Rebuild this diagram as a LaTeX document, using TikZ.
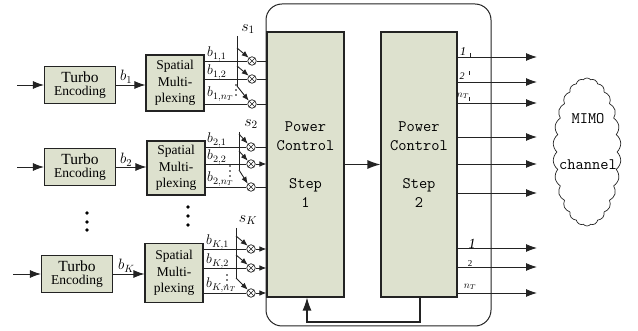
\documentclass[tikz,border=0pt]{standalone}
\usepackage{fix-cm}
\usepackage{fontspec}
\setmainfont{Liberation Serif}
\usetikzlibrary{arrows.meta,shapes.symbols}
\definecolor{boxfill}{RGB}{221,225,206}
\definecolor{ink}{RGB}{35,35,35}
\begin{document}
\begin{tikzpicture}[x=1pt,y=-1pt,
  box/.style={draw=ink, line width=1.1pt, fill=boxfill, inner sep=0pt, align=center},
  wire/.style={draw=ink, line width=0.9pt},
  arr/.style={wire, -{Latex[length=11pt,width=8pt]}},
  barr/.style={wire, line width=1.1pt, -{Latex[length=13pt,width=9pt]}},
  sarr/.style={wire, -{Latex[length=7pt,width=5.5pt]}},
  mult/.style={circle, draw=ink, line width=0.7pt, minimum size=8.5pt, inner sep=0pt, fill=white,
    path picture={\draw[ink, line width=0.6pt] (path picture bounding box.north west)--(path picture bounding box.south east)
      (path picture bounding box.north east)--(path picture bounding box.south west);}},
  blab/.style={inner sep=0pt, anchor=base west, font=\fontsize{14}{14}\selectfont},
  dot/.style={circle, fill=black, inner sep=0pt, minimum size=3.6pt},
  sdot/.style={circle, fill=black, inner sep=0pt, minimum size=1.6pt},
  pc/.style={box, font=\ttfamily\fontsize{16}{18.5}\selectfont, minimum width=77pt, minimum height=265pt},
  turbo/.style={box, minimum width=71pt, minimum height=37pt},
  spat/.style={box, minimum width=58pt, font=\fontsize{13.5}{16.5}\selectfont}
]
\useasboundingbox (0,0) rectangle (638,331);

% outer rounded frame
\node[draw=ink, line width=1pt, rounded corners=16pt, minimum width=225pt, minimum height=322pt, inner sep=0pt] (outer) at (378.5,165) {};

% Turbo boxes
\node[turbo] (t1) at (80,85)
  {{\fontsize{15.5}{15.5}\selectfont Turbo}\\[1pt]{\fontsize{13.5}{13.5}\selectfont Encoding}};
\node[turbo] (t2) at (80,167)
  {{\fontsize{15.5}{15.5}\selectfont Turbo}\\[1pt]{\fontsize{13.5}{13.5}\selectfont Encoding}};
\node[turbo] (t3) at (77,274)
  {{\fontsize{15.5}{15.5}\selectfont Turbo}\\[1pt]{\fontsize{13.5}{13.5}\selectfont Encoding}};

% Spatial boxes
\node[spat, minimum height=56pt] (s1) at (175,83) {Spatial\\Multi-\\plexing};
\node[spat, minimum height=54pt] (s2) at (176,168) {Spatial\\Multi-\\plexing};
\node[spat, minimum height=59pt] (s3) at (174,273) {Spatial\\Multi-\\plexing};

% Power control boxes
\node[pc] (p1) at (305.5,164.5) {Power\\Control\\[20pt]Step\\1};
\node[pc, minimum width=76pt] (p2) at (419,164.5) {Power\\Control\\[20pt]Step\\2};

% input arrows
\coordinate (i1) at (17,85);
\coordinate (i2) at (17,167);
\coordinate (i3) at (13,274);
\draw[arr] (i1) -- (t1.west);
\draw[arr] (i2) -- (t2.west);
\draw[arr] (i3) -- (t3.west);
\draw[arr] (t1.east) -- (t1.east -| s1.west);
\draw[arr] (t2.east) -- (t2.east -| s2.west);
\draw[arr] (t3.east) -- (t3.east -| s3.west);
\node[inner sep=0pt, anchor=base west, font=\fontsize{15}{15}\selectfont] (lb1) at (120,81) {$b_1$};
\node[inner sep=0pt, anchor=base west, font=\fontsize{15}{15}\selectfont] (lb2) at (120,164) {$b_2$};
\node[inner sep=0pt, anchor=base west, font=\fontsize{15}{15}\selectfont] (lb3) at (118,270) {$b_K$};

% multipliers
\node[mult] (m11) at (252,61) {};
\node[mult] (m12) at (252,79) {};
\node[mult] (m13) at (252,104) {};
\node[mult] (m21) at (251,147) {};
\node[mult] (m22) at (251,164) {};
\node[mult] (m23) at (251,187) {};
\node[mult] (m31) at (251,249) {};
\node[mult] (m32) at (251,268) {};
\node[mult] (m33) at (251,293) {};

% lines spatial -> multipliers
\foreach \g/\s in {1/s1,2/s2,3/s3}{
  \foreach \k in {1,2,3}{
    \draw[wire] (\s.east |- m\g\k) -- (m\g\k.west);
  }
}
% multipliers -> power control 1
\draw[wire] (m11.east) -- (m11 -| p1.west);
\draw[wire] (m12.east) -- (m12 -| p1.west);
\draw[wire] (m13.east) -- (m13 -| p1.west);
\draw[wire] (m21.east) -- (m21 -| p1.west);
\draw[sarr] (m22.east) -- (m22 -| p1.west);
\draw[wire] (m23.east) -- (m23 -| p1.west);
\draw[sarr] (m31.east) -- (m31 -| p1.west);
\draw[sarr] (m32.east) -- (m32 -| p1.west);
\draw[sarr] (m33.east) -- (m33 -| p1.west);

% switches
\coordinate (w1t) at (237,36);  \coordinate (w1a) at (237,48);  \coordinate (w1b) at (237,66);  \coordinate (w1c) at (237,86);
\coordinate (w2t) at (239,132); \coordinate (w2a) at (239,134); \coordinate (w2b) at (239,151); \coordinate (w2c) at (239,170);
\coordinate (w3t) at (236,228); \coordinate (w3a) at (236,236); \coordinate (w3b) at (236,255); \coordinate (w3c) at (236,278);
\foreach \g in {1,2,3}{
  \draw[wire] (w\g t) -- (w\g c);
  \draw[sarr] (w\g a) -- (m\g1.north west);
  \draw[sarr] (w\g b) -- (m\g2.north west);
  \draw[sarr] (w\g c) -- (m\g3.north west);
}
\node[inner sep=0pt, font=\fontsize{16}{16}\selectfont] (sl1) at (248,29) {$s_1$};
\node[inner sep=0pt, font=\fontsize{16}{16}\selectfont] (sl2) at (251,124) {$s_2$};
\node[inner sep=0pt, font=\fontsize{16}{16}\selectfont] (sl3) at (248,220) {$s_K$};

% b labels
\node[blab] at (207,57) {$b_{1,1}$};
\node[blab] at (207,75) {$b_{1,2}$};
\node[blab] at (207,97) {$b_{1,n_T}$};
\node[blab] at (207,143) {$b_{2,1}$};
\node[blab] at (207,160) {$b_{2,2}$};
\node[blab] at (207,182) {$b_{2,n_T}$};
\node[blab] at (206,245) {$b_{K,1}$};
\node[blab] at (206,264) {$b_{K,2}$};
\node[blab] at (206,288) {$b_{K,n_T}$};
\foreach \x/\y in {236/85,230/166,227/275}{
  \node[sdot] at (\x,\y) {};
  \node[sdot] at (\x,\y+5) {};
  \node[sdot] at (\x,\y+10) {};
}

% vertical dots between groups
\node[dot] at (87,213) {};
\node[dot] at (87,222) {};
\node[dot] at (87,230) {};
\node[dot] at (188,207) {};
\node[dot] at (188,216) {};
\node[dot] at (188,225) {};

% between power control boxes
\draw[barr] (p1.east) -- (p2.west);
% feedback
\coordinate (fb1) at (420,322);
\coordinate (fb2) at (307,322);
\draw[barr] (fb1 |- p2.south) -- (fb1) -- (fb2) -- (fb2 |- p1.south);

% outputs
\foreach \n/\y in {1/57,2/82,3/103,4/137,5/164,6/193,7/248,8/267,9/293}{
  \coordinate (o\n) at (537,\y);
  \draw[arr] (o\n -| p2.east) -- (o\n);
}
\node[inner sep=0pt, font=\itshape\fontsize{12}{12}\selectfont] at (463,52) {1};
\node[inner sep=0pt, font=\itshape\fontsize{10}{10}\selectfont] at (462,76) {2};
\node[inner sep=0pt, font=\fontsize{10}{10}\selectfont] at (463,96) {$n_T$};
\draw[ink, line width=0.6pt] (470,53) -- (470,57);
\draw[ink, line width=0.6pt] (469,71) -- (469,75);
\draw[ink, line width=0.6pt] (469,97) -- (469,101);
\node[inner sep=0pt, font=\itshape\fontsize{14}{14}\selectfont] at (472,244) {1};
\node[inner sep=0pt, font=\fontsize{9}{9}\selectfont] at (470,264) {2};
\node[inner sep=0pt, font=\fontsize{10}{10}\selectfont] at (470,287) {$n_T$};

% MIMO cloud
\node[cloud, draw=ink, line width=0.7pt, cloud puffs=26, cloud puff arc=100, cloud ignores aspect,
  minimum width=68pt, minimum height=148pt, inner sep=0pt] (cl) at (587,152) {};
\node[inner sep=0pt, font=\ttfamily\fontsize{16}{16}\selectfont] (mimo) at (588,119) {MIMO};
\node[inner sep=0pt, font=\ttfamily\fontsize{16}{16}\selectfont] (chan) at (588,165) {channel};
\end{tikzpicture}
\end{document}
